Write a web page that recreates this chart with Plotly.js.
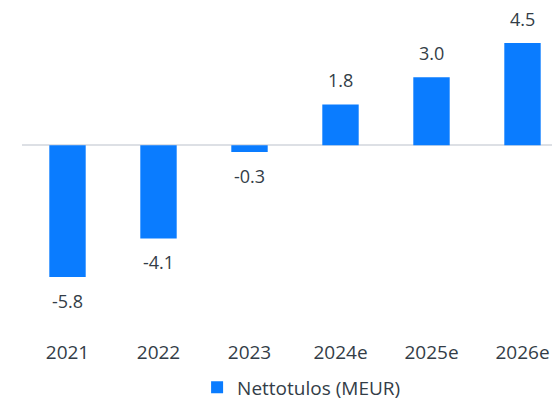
<!DOCTYPE html>
<html>
<head>
<meta charset="utf-8">
<script src="https://cdn.plot.ly/plotly-3.0.1.min.js"></script>
<style>
  html, body { margin: 0; padding: 0; overflow: hidden; background: #fff; }
  #plotArea { width: 568px; height: 401px; }
</style>
</head>
<body>
<div id="plotArea"></div>
<script>
// Nettotulos (MEUR)
var years = ["2021", "2022", "2023", "2024e", "2025e", "2026e"];
var netIncome = [-5.8, -4.1, -0.3, 1.8, 3.0, 4.5];
var seriesName = "Nettotulos (MEUR)";

var textColor = "#333d47";
var barColor = "#0a7cff";

var trace = {
    x: years,
    y: netIncome,
    type: "bar",
    name: seriesName,
    marker: { color: barColor },
    hoverinfo: "x+y"
};

// value labels, a bit further from the bar than plotly's own outside text
// (category axis -> annotation x is the category index)
var labels = years.map(function (yr, i) {
    var v = netIncome[i];
    return {
        x: i,
        y: v,
        text: v.toFixed(1),
        showarrow: false,
        yanchor: "middle",
        yshift: v >= 0 ? 24 : -24,
        font: { size: 18, color: textColor }
    };
});

var layout = {
    width: 568,
    height: 401,
    margin: { l: 22, r: 0, t: 9, b: 74, autoexpand: false },
    paper_bgcolor: "#fff",
    plot_bgcolor: "#fff",
    font: { family: "'Open Sans', sans-serif", size: 18, color: textColor },
    bargap: 0.6,
    showlegend: true,
    legend: {
        orientation: "h",
        xref: "container",
        yref: "container",
        x: 0.347,
        xanchor: "left",
        y: 0.034,
        yanchor: "middle",
        font: { size: 19, color: textColor }
    },
    xaxis: {
        type: "category",
        range: [-0.5, years.length - 0.5],
        automargin: false,
        showgrid: false,
        showline: false,
        ticks: "",
        ticklabelstandoff: 12,
        tickfont: { size: 19, color: textColor }
    },
    yaxis: {
        range: [-8, 6],
        automargin: false,
        showgrid: false,
        showticklabels: false,
        zeroline: true,
        zerolinecolor: "#dde0e5",
        zerolinewidth: 2
    },
    annotations: labels
};

Plotly.newPlot("plotArea", [trace], layout, { displayModeBar: false, staticPlot: true });
</script>
</body>
</html>
